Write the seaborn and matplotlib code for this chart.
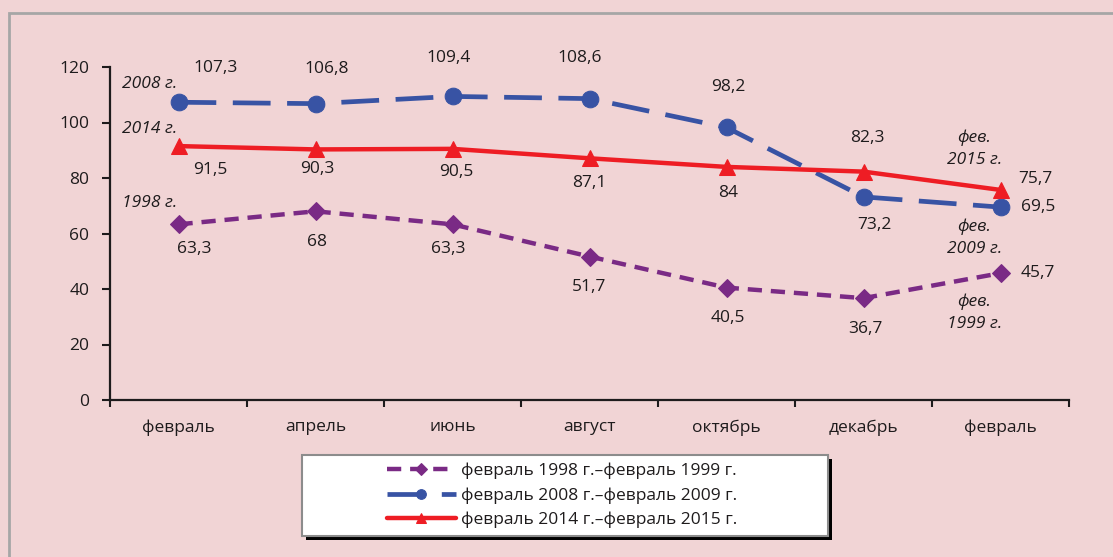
import numpy as np
import pandas as pd
import matplotlib
matplotlib.use("Agg")
import matplotlib.pyplot as plt
from matplotlib.patches import Rectangle
import seaborn as sns

# ---- data ----
months = ["февраль", "апрель", "июнь", "август", "октябрь", "декабрь", "февраль"]
crisis_1998 = [63.3, 68, 63.3, 51.7, 40.5, 36.7, 45.7]
crisis_2008 = [107.3, 106.8, 109.4, 108.6, 98.2, 73.2, 69.5]
crisis_2014 = [91.5, 90.3, 90.5, 87.1, 84, 82.3, 75.7]
series_names = ["февраль 1998 г.–февраль 1999 г.",
                "февраль 2008 г.–февраль 2009 г.",
                "февраль 2014 г.–февраль 2015 г."]
y_ticks = [0, 20, 40, 60, 80, 100, 120]

def fmt(v):
    s = ("%g" % v)
    return s.replace(".", ",")

sns.set_theme(style="white")
plt.rcParams["font.family"] = ["Open Sans", "DejaVu Sans"]

BG = "#F1D4D5"
TXT = "#1E1B1C"
fig = plt.figure(figsize=(11.13, 5.57), dpi=100, facecolor=BG)
W, H = 1113, 557
ax = fig.add_axes([110 / W, 1 - 400 / H, 959 / W, 333 / H])
ax.set_facecolor(BG)

pos = np.arange(len(months))
df = pd.DataFrame({"pos": pos, "s98": crisis_1998, "s08": crisis_2008, "s14": crisis_2014})

c98, c08, c14 = "#7A2A85", "#3853A4", "#EE1D24"
sns.lineplot(data=df, x="pos", y="s98", ax=ax, color=c98, lw=3.2,
             linestyle=(0, (3.2, 2.0)), marker="D", markersize=9.5,
             markeredgecolor=c98, label=series_names[0], zorder=3)
sns.lineplot(data=df, x="pos", y="s08", ax=ax, color=c08, lw=3.4,
             linestyle=(0, (8, 3.5)), marker="o", markersize=12,
             markeredgecolor=c08, label=series_names[1], zorder=3)
sns.lineplot(data=df, x="pos", y="s14", ax=ax, color=c14, lw=3.2,
             linestyle="-", marker="^", markersize=11,
             markeredgecolor=c14, label=series_names[2], zorder=4)

ax.set_xlim(-0.5, len(months) - 0.5)
ax.set_ylim(0, 120)
ax.set_xlabel("")
ax.set_ylabel("")
ax.set_yticks(y_ticks)
ax.set_yticklabels([str(t) for t in y_ticks])
ax.set_xticks(np.arange(len(months) + 1) - 0.5)
ax.set_xticklabels([])
ax.set_xticks(pos, minor=True)
ax.set_xticklabels(months, minor=True)
ax.tick_params(axis="x", which="major", length=5, width=1.5, color=TXT, direction="out", bottom=True)
ax.tick_params(axis="x", which="minor", length=0, pad=14, labelsize=12.5, labelcolor=TXT, bottom=True)
ax.tick_params(axis="y", which="major", length=6, width=1.5, color=TXT, direction="out",
               pad=9, labelsize=12.5, labelcolor=TXT, left=True)
for side in ["top", "right"]:
    ax.spines[side].set_visible(False)
for side in ["left", "bottom"]:
    ax.spines[side].set_color(TXT)
    ax.spines[side].set_linewidth(1.6)

# value labels (offsets in points)
off98 = [(11, -18), (1, -22), (-3, -18), (0, -22), (1, -22), (1, -22), (27, 0)]
off08 = [(27, 25), (8, 25), (-3, 28), (-7, 29), (1, 29), (8, -20), (27, 0)]
off14 = [(23, -17), (1, -14), (3, -17), (0, -18), (1, -19), (3, 24), (25, 8)]
for vals, offs in [(crisis_1998, off98), (crisis_2008, off08), (crisis_2014, off14)]:
    for x, v, o in zip(pos, vals, offs):
        ax.annotate(fmt(v), (x, v), xytext=o, textcoords="offset points",
                    ha="center", va="center", fontsize=12.5, color=TXT)

# italic period labels
ital = dict(ha="center", va="center", fontsize=12.5, style="italic", color=TXT)
ax.text(-0.21, 114.0, "2008 г.", **ital)
ax.text(-0.21, 97.5, "2014 г.", **ital)
ax.text(-0.21, 71.0, "1998 г.", **ital)
ax.text(5.81, 90.6, "фев.\n2015 г.", linespacing=1.55, **ital)
ax.text(5.81, 58.5, "фев.\n2009 г.", linespacing=1.55, **ital)
ax.text(5.81, 31.5, "фев.\n1999 г.", linespacing=1.55, **ital)

# outer chart border
fig.patches.append(Rectangle((9 / W, -0.1), 1.2, 1 - 13 / H + 0.1, transform=fig.transFigure,
                             fill=False, edgecolor="#A6A6A6", lw=2.0, zorder=0))
# legend box with shadow
bx, by, bw, bh = 302, 455, 526, 81
fig.patches.append(Rectangle(((bx + 4) / W, 1 - (by + bh + 4) / H), bw / W, bh / H,
                             transform=fig.transFigure, facecolor="black", edgecolor="none", zorder=1))
fig.patches.append(Rectangle((bx / W, 1 - (by + bh) / H), bw / W, bh / H,
                             transform=fig.transFigure, facecolor="white",
                             edgecolor="#8C8C8C", lw=1.5, zorder=2))
handles, labels = ax.get_legend_handles_labels()
if ax.get_legend():
    ax.get_legend().remove()
leg = fig.legend(handles, labels, loc="center", bbox_to_anchor=(562 / W, 1 - 495.5 / H),
                 frameon=False, fontsize=12.5, handlelength=4.0, handletextpad=0.3,
                 labelspacing=0.45, borderpad=0.2)
for t in leg.get_texts():
    t.set_color(TXT)
for h, ms in zip(leg.legend_handles, [6, 7, 6.5]):
    h.set_markersize(ms)

fig.savefig("out.png", dpi=100, facecolor=BG)
